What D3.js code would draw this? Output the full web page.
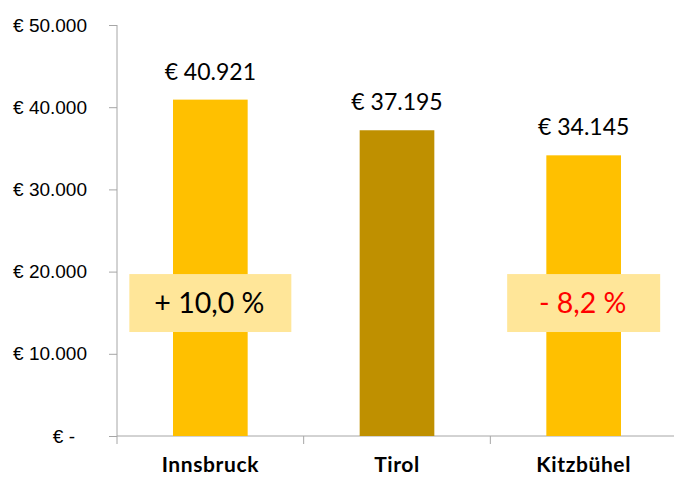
<!DOCTYPE html>
<html>
<head>
<meta charset="utf-8">
<script src="https://cdn.jsdelivr.net/npm/d3@7"></script>
<style>
  body { margin: 0; background: #fff; }
  svg { display: block; font-family: "Lato", "Open Sans", sans-serif; }
</style>
</head>
<body>
<svg id="chart" width="674" height="477"></svg>
<script>
// data
const regions = ["Innsbruck", "Tirol", "Kitzbühel"];
const incomes = [40921, 37195, 34145];
const barColors = ["#FFC000", "#BF9000", "#FFC000"];
const valueLabels = ["€ 40.921", "€ 37.195", "€ 34.145"];
const tickValues = [0, 10000, 20000, 30000, 40000, 50000];
const tickLabels = ["€ -", "€ 10.000", "€ 20.000", "€ 30.000", "€ 40.000", "€ 50.000"];
// comparison boxes vs Tirol
const diffRegions = ["Innsbruck", "Kitzbühel"];
const diffLabels = ["+ 10,0 %", "- 8,2 %"];
const diffColors = ["#000000", "#FF0000"];
const diffBoxWidths = [162, 153];

const svg = d3.select("#chart");
const margin = {top: 25, left: 117, bottom: 41};
const plotBottom = 477 - margin.bottom;

const x = d3.scaleBand()
    .domain(regions)
    .range([margin.left, 677])
    .paddingInner(0.6)
    .paddingOuter(0.3);

const y = d3.scaleLinear()
    .domain([0, 50000])
    .range([plotBottom, margin.top]);

const axisColor = "#A6A6A6";
const step = x.step();
const center = d => x(d) + x.bandwidth() / 2;

//y axis
const yAxis = svg.append("g")
    .attr("transform", `translate(${margin.left},0)`)
    .call(d3.axisLeft(y)
        .tickValues(tickValues)
        .tickFormat((d, i) => tickLabels[i])
        .tickSize(8)
        .tickPadding(22));
yAxis.select(".domain").attr("stroke", axisColor).attr("d", `M0,${y(50000)}V${plotBottom + 8}`);
yAxis.selectAll(".tick line").attr("stroke", axisColor);
yAxis.selectAll(".tick text")
    .attr("fill", "#000")
    .style("font-size", "19px")
    .attr("dx", d => d === 0 ? -12 : 0);

//x axis line + boundary ticks
svg.append("line")
    .attr("x1", margin.left).attr("x2", 677)
    .attr("y1", plotBottom).attr("y2", plotBottom)
    .attr("stroke", axisColor);
svg.selectAll("line.xtick")
  .data(regions.slice(1)).enter()
  .append("line")
    .attr("class", "xtick")
    .attr("x1", d => center(d) - step / 2)
    .attr("x2", d => center(d) - step / 2)
    .attr("y1", plotBottom).attr("y2", plotBottom + 8)
    .attr("stroke", axisColor);

//bars
svg.selectAll("rect.bar")
  .data(regions).enter()
  .append("rect")
    .attr("class", "bar")
    .attr("x", d => x(d))
    .attr("width", x.bandwidth())
    .attr("y", (d, i) => y(incomes[i]))
    .attr("height", (d, i) => plotBottom - y(incomes[i]))
    .attr("fill", (d, i) => barColors[i]);

//value labels
svg.selectAll("text.val")
  .data(regions).enter()
  .append("text")
    .attr("class", "val")
    .attr("x", center)
    .attr("y", (d, i) => y(incomes[i]) - 20)
    .attr("text-anchor", "middle")
    .style("font-size", "23px")
    .text((d, i) => valueLabels[i]);

//category labels
svg.selectAll("text.cat")
  .data(regions).enter()
  .append("text")
    .attr("class", "cat")
    .attr("x", center)
    .attr("y", 472)
    .attr("text-anchor", "middle")
    .style("font-size", "21px")
    .style("font-weight", "bold")
    .style("letter-spacing", "0.6px")
    .text(d => d);

//difference boxes
const boxTop = y(19700), boxBottom = y(12650);
const boxes = svg.selectAll("g.diff")
  .data(diffRegions).enter()
  .append("g")
    .attr("class", "diff");
boxes.append("rect")
    .attr("x", (d, i) => center(d) - diffBoxWidths[i] / 2)
    .attr("width", (d, i) => diffBoxWidths[i])
    .attr("y", boxTop)
    .attr("height", boxBottom - boxTop)
    .attr("fill", "#FFE699");
boxes.append("text")
    .attr("x", d => center(d) - 1)
    .attr("y", (boxTop + boxBottom) / 2 + 10)
    .attr("text-anchor", "middle")
    .style("font-size", "28.5px")
    .attr("fill", (d, i) => diffColors[i])
    .text((d, i) => diffLabels[i]);
</script>
</body>
</html>
